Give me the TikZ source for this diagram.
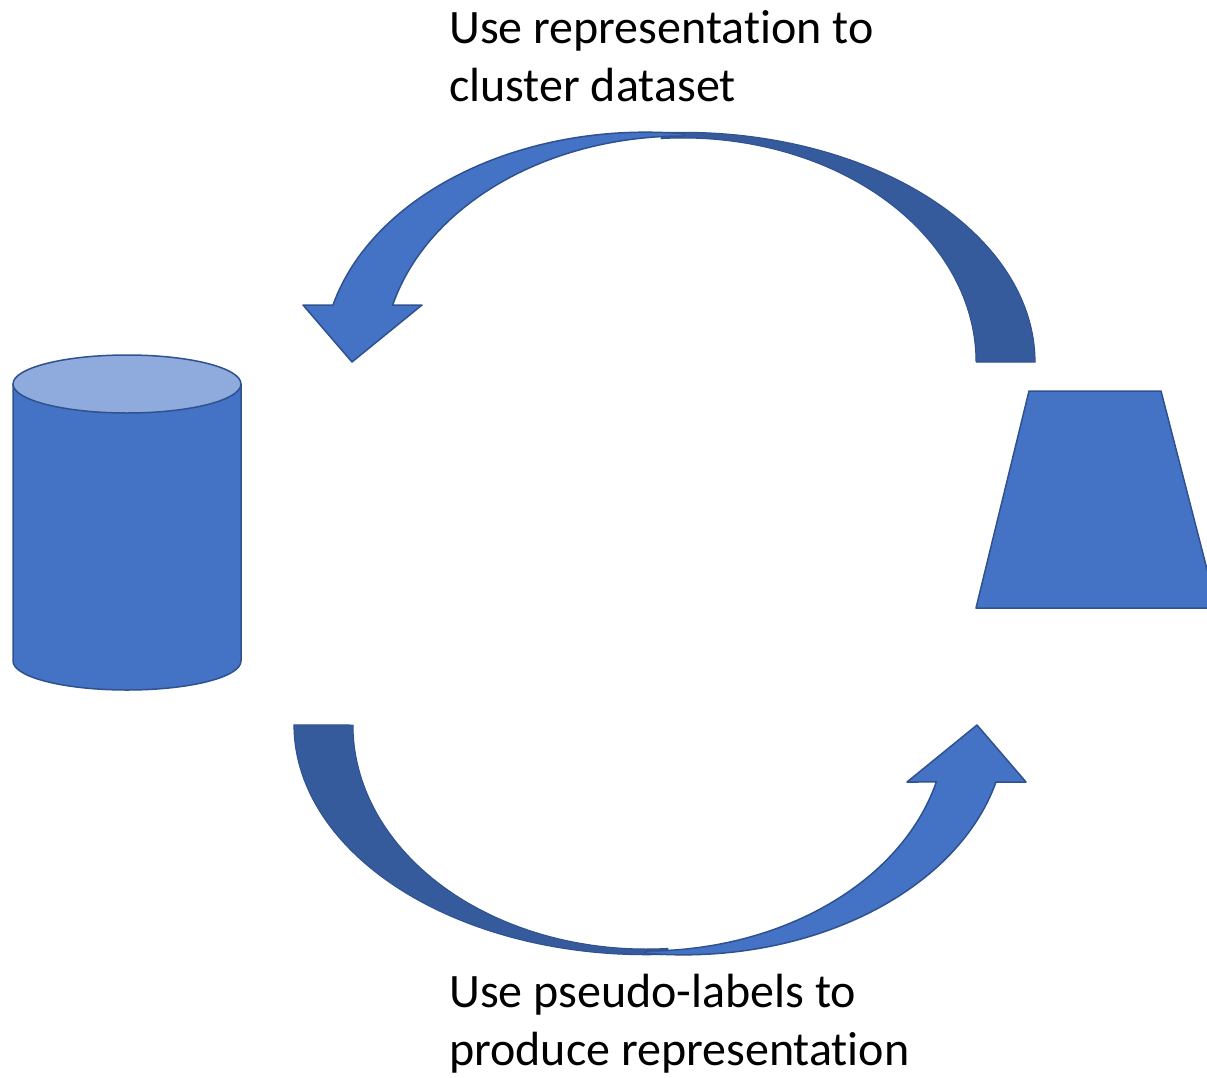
\documentclass[tikz,border=0pt]{standalone}
\usepackage{fontspec}
\setmainfont{Carlito}[Ligatures=NoCommon]
\definecolor{accentfill}{HTML}{4472C4}
\definecolor{accentdark}{HTML}{365B9D}
\definecolor{accentlight}{HTML}{8FAADC}
\definecolor{accentedge}{HTML}{2F528F}
\tikzset{
  lightpart/.style={fill=accentfill, draw=accentedge, line width=1.5pt, line join=round},
  darkpart/.style={fill=accentdark, draw=accentedge, line width=1pt, line join=round},
  lbl/.style={inner sep=0pt, anchor=base west, font=\fontsize{48}{58}\selectfont}
}
\newcommand\curvedArrowShape{%
  % back (darker) band, starting a little under the front band
  \path[darkpart] (661,132.7) arc[start angle=-93.6, end angle=0, x radius=352, y radius=230]
     -- (976,362) arc[start angle=0, end angle=-94.3, x radius=293, y radius=224] -- cycle;
  % front band with head
  \path[lightpart] (303,305) -- (333,305)
     arc[start angle=-165.6, end angle=-83.2, x radius=323, y radius=230]
     -- (683,136) arc[start angle=-90, end angle=-165.4, x radius=300, y radius=226]
     -- (422,305) -- (352,362) -- cycle;
}
\begin{document}
\begin{tikzpicture}[x=1pt, y=-1pt]
  \clip (0,0) rectangle (1207,1077);
  \fill[white] (0,0) rectangle (1207,1077);
  % top curved arrow
  \curvedArrowShape
  % bottom curved arrow (same shape turned half a turn)
  \begin{scope}[rotate around={180:(664.5,543.5)}]
    \curvedArrowShape
  \end{scope}
  % dataset cylinder
  \path[lightpart] (13,384) -- (13,661)
     arc[start angle=180, end angle=0, x radius=114, y radius=29]
     -- (241,384) -- cycle;
  \path[lightpart, fill=accentlight] (127,384) ellipse[x radius=114, y radius=29];
  % model trapezoid
  \path[lightpart] (1029,391) -- (1161,391) -- (1217,608) -- (976,608) -- cycle;
  % labels
  \node[lbl] (toplabel) at (449,43) {\begin{tabular}[t]{@{}l@{}}Use representation to\\cluster dataset\end{tabular}};
  \node[lbl] (bottomlabel) at (449,1007) {\begin{tabular}[t]{@{}l@{}}Use pseudo-labels to\\produce representation\end{tabular}};
\end{tikzpicture}
\end{document}
